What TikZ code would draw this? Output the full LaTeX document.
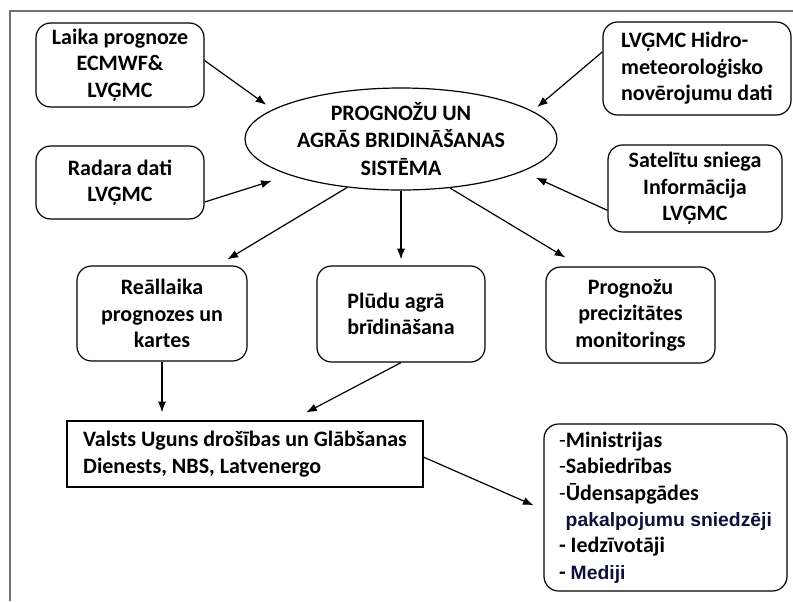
\documentclass[tikz,border=0pt]{standalone}
\usepackage{fontspec}
\setmainfont{Carlito}
\newfontfamily\arialfont{Liberation Sans}
\usetikzlibrary{positioning}
\usetikzlibrary{shapes.geometric}
\usetikzlibrary{arrows.meta}
\definecolor{framegray}{RGB}{112,112,112}
\definecolor{navytext}{RGB}{15,15,60}
\tikzset{
  txt/.style={font=\fontsize{16.5}{19.8}\selectfont\bfseries, align=center},
  rbox/.style={txt, draw, rounded corners=11pt, line width=0.9pt, inner sep=2pt},
  arr/.style={-{Latex[length=8pt,width=6pt]}, line width=0.9pt},
}

\begin{document}
\begin{tikzpicture}[x=0.75pt, y=-0.75pt]
  \useasboundingbox (0,0) rectangle (793,601);
  \draw [framegray, line width=1.5pt] (10,601) -- (10,11) -- (793,11);

  \node [txt, draw, ellipse, line width=0.9pt, inner sep=-3pt, minimum width=234pt, minimum height=76.5pt, font=\fontsize{16.5}{20.5}\selectfont\bfseries] (sys) at (401,139) {PROGNOŽU UN\\AGRĀS BRIDINĀŠANAS\\SISTĒMA};

  \node [rbox, minimum width=126pt, minimum height=63pt] (laika) at (120,65) {Laika prognoze\\ECMWF\&\\LVĢMC};
  \node [rbox, minimum width=126pt, minimum height=54.75pt] (radara) at (120,182.5) {Radara dati\\LVĢMC};
  \node [rbox, align=left, minimum width=141pt, minimum height=69.75pt] (hidro) at (697,68.5) {LVĢMC Hidro-\\meteoroloģisko\\novērojumu dati};
  \node [rbox, minimum width=130.5pt, minimum height=65.25pt] (satel) at (695,188.5) {Satelītu sniega\\Informācija\\LVĢMC};

  \node [rbox, minimum width=127.5pt, minimum height=71.25pt] (realt) at (162,313.5) {Reāllaika\\prognozes un\\kartes};
  \node [rbox, align=left, minimum width=126pt, minimum height=72pt] (pludu) at (401,314) {Plūdu agrā\\brīdināšana};
  \node [rbox, minimum width=126.75pt, minimum height=72pt] (progn) at (630.5,315) {Prognožu\\precizitātes\\monitorings};

  \node [txt, draw, align=left, line width=0.9pt, minimum width=267pt, minimum height=49.5pt] (valsts) at (245,454) {Valsts Uguns drošības un Glābšanas\\Dienests, NBS, Latvenergo};
  \node [rbox, align=left, minimum width=182.25pt, minimum height=125.25pt] (users) at (665.5,507.5) {{\mdseries -}Ministrijas\\{\mdseries -}Sabiedrības\\{\mdseries -}Ūdensapgādes\\\hspace*{5pt}{\arialfont\fontsize{14.5}{19.8}\selectfont\color{navytext}pakalpojumu sniedzēji}\\- Iedzīvotāji\\- {\arialfont\fontsize{14.5}{19.8}\selectfont\color{navytext}Mediji}};

  \foreach \src/\a/\b/\gap in {laika/3/167/6pt, radara/-13/198.5/14pt, hidro/170/12/4.5pt, satel/194.5/-15/11pt} {
    \draw [arr, shorten >=\gap] (\src.\a) -- (sys.\b);
  }

  \draw [arr, shorten >=8.8pt] (sys.222) -- (realt.41);
  \draw [arr, shorten >=4.5pt] (sys.south) -- (pludu.north);
  \draw [arr, shorten >=13pt] (sys.-45) -- (progn.136.5);

  \draw [arr, shorten >=6pt] (realt.south) -- (realt.south |- valsts.north);
  \draw [arr, shorten >=12.7pt] (pludu.south) -- (valsts.36);
  \draw [arr, shorten >=8pt] (valsts.-1) -- (users.181);
\end{tikzpicture}
\end{document}
